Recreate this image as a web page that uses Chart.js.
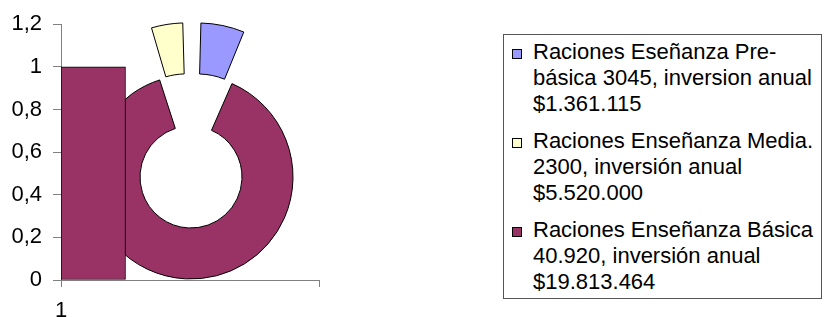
<!DOCTYPE html>
<html>
<head>
<meta charset="utf-8">
<script src="https://cdn.jsdelivr.net/npm/chart.js@4.4.1/dist/chart.umd.min.js"></script>
<style>
	body { margin: 0; background: #fff; width: 825px; height: 317px; overflow: hidden; position: relative; font-family: "Liberation Sans", Arial, sans-serif; }
	#ring { position: absolute; left: 31px; top: 17px; z-index: 1; }
	#bars { position: absolute; left: 0; top: 0; z-index: 2; }
	.legend { position: absolute; left: 503px; top: 34px; width: 319px; height: 265px; box-sizing: border-box; border: 1px solid #555; padding: 4px 0 0 8px; z-index: 3; }
	.item { position: relative; padding-left: 21px; margin-bottom: 11px; font-size: 22px; line-height: 26px; white-space: nowrap; color: #000; }
	.item i { position: absolute; left: 0; top: 10px; width: 10px; height: 10px; box-sizing: border-box; border: 1px solid #000; }
</style>
</head>
<body>
<canvas id="ring" width="320" height="320"></canvas>
<canvas id="bars" width="330" height="317"></canvas>
<div class="legend" id="legend"></div>
<script>
// Bar part
const categories = ['1'];
const barValues = [1];
const barSlots = ['1', '', '', ''];
const barColor = '#993366';

// Doughnut part, clockwise from the top
const sliceNames = ['Pre-básica', 'Básica', 'Media'];
const sliceValues = [3045, 40920, 2300];
const sliceColors = ['#9999ff', '#993366', '#ffffcc'];
const sliceOffsets = [132, 0, 124];

// Legend, in the order it is listed
const legendOrder = [0, 2, 1];
const legendLines = [
	['Raciones Eseñanza Pre-', 'básica 3045, inversion anual', '$1.361.115'],
	['Raciones Enseñanza Básica', '40.920, inversión anual', '$19.813.464'],
	['Raciones Enseñanza Media.', '2300, inversión anual', '$5.520.000']
];

const axisColor = '#808080';
const tickFont = { family: '"Liberation Sans", Arial, sans-serif', size: 22 };

// The ring sits below the bar chart
new Chart(document.getElementById('ring'), {
	type: 'doughnut',
	data: {
		labels: sliceNames,
		datasets: [{
			data: sliceValues,
			backgroundColor: sliceColors,
			borderColor: '#000',
			borderWidth: 1,
			offset: sliceOffsets,
			hoverOffset: 0
		}]
	},
	options: {
		responsive: false,
		animation: false,
		events: [],
		radius: 102,
		cutout: '50%',
		rotation: 0,
		plugins: { legend: { display: false }, tooltip: { enabled: false } }
	}
});

new Chart(document.getElementById('bars'), {
	type: 'bar',
	data: {
		labels: categories,
		datasets: [{
			data: barValues,
			xAxisID: 'xBar',
			backgroundColor: barColor,
			borderColor: '#000',
			borderWidth: 1,
			borderSkipped: false,
			barPercentage: 1,
			categoryPercentage: 1
		}]
	},
	options: {
		responsive: false,
		animation: false,
		events: [],
		layout: { padding: { top: 22, right: 6, left: 0, bottom: 0 } },
		plugins: { legend: { display: false }, tooltip: { enabled: false } },
		scales: {
			xBar: { type: 'category', labels: barSlots, display: false, offset: true },
			x: {
				type: 'category',
				labels: [categories[0], ''],
				offset: false,
				grid: { offset: false, drawOnChartArea: false, drawTicks: true, tickLength: 7, color: axisColor },
				border: { display: true, color: axisColor },
				ticks: { color: '#000', font: tickFont, padding: 11, maxRotation: 0, autoSkip: false },
				afterFit: (s) => { s.height = 37; }
			},
			y: {
				min: 0,
				max: 1.2,
				grid: { drawOnChartArea: false, drawTicks: true, tickLength: 8, color: axisColor },
				border: { display: true, color: axisColor },
				ticks: {
					stepSize: 0.2,
					color: '#000',
					font: tickFont,
					padding: 11,
					callback: (v) => String(Math.round(v * 10) / 10).replace('.', ',')
				},
				afterFit: (s) => { s.width = 61; }
			}
		}
	}
});

// Build the legend
const legend = document.getElementById('legend');
legendOrder.forEach((i) => {
	const item = document.createElement('div');
	item.className = 'item';
	const box = document.createElement('i');
	box.style.background = sliceColors[i];
	item.appendChild(box);
	legendLines[i].forEach((line, k) => {
		if (k > 0) item.appendChild(document.createElement('br'));
		item.appendChild(document.createTextNode(line));
	});
	legend.appendChild(item);
});
</script>
</body>
</html>
